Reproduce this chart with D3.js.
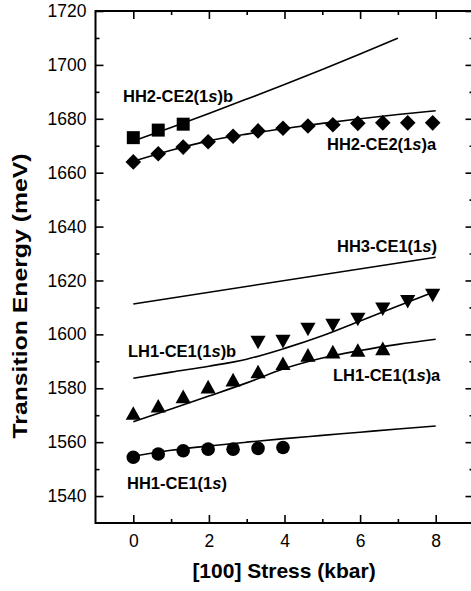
<!DOCTYPE html>
<html>
<head>
<meta charset="utf-8">
<script src="https://cdn.jsdelivr.net/npm/d3@7/dist/d3.min.js"></script>
<style>
body { margin: 0; background: #fff; }
svg { display: block; }
</style>
</head>
<body>
<svg id="chart"></svg>
<script>
// values (stress in kbar, energy in meV)
var stressKbar = [0, 0.66, 1.32, 1.98, 2.64, 3.3, 3.96, 4.62, 5.28, 5.94, 6.6, 7.26, 7.92];
var fitKbar = [0, 1, 2, 3, 4, 5, 6, 7, 8];

var hh2bPoints = [1673.0, 1675.8, 1678.0];
var hh2aPoints = [1664.0, 1667.0, 1669.5, 1671.5, 1673.5, 1675.5, 1676.5, 1677.3, 1677.8, 1678.3, 1678.5, 1678.5, 1678.5];
var lh1bPoints = [null, null, null, null, null, 1597.0, 1597.3, 1601.8, 1603.3, 1605.5, 1609.3, 1612.1, 1614.4];
var lh1aPoints = [1570.8, 1573.5, 1577.0, 1580.6, 1583.2, 1586.2, 1589.3, 1592.4, 1593.6, 1594.2, 1594.8];
var hh1Points = [1554.4, 1555.6, 1556.8, 1557.4, 1557.4, 1557.7, 1558.0];

var hh2bFit = [1671.8, 1676.8, 1682.0, 1687.3, 1692.7, 1698.3, 1704.0, 1709.9];
var hh2aFit = [1664.2, 1668.3, 1671.8, 1674.3, 1676.4, 1678.3, 1680.0, 1681.6, 1683.0];
var hh3Fit = [1611.3, null, null, null, null, null, null, null, 1628.6];
var lh1bFit = [1583.7, 1586.0, 1588.2, 1590.8, 1594.8, 1599.5, 1605.0, 1610.5, 1616.0];
var lh1aFit = [1567.6, 1572.3, 1577.1, 1582.0, 1587.3, 1591.2, 1594.0, 1596.3, 1598.2];
var hh1Fit = [1554.8, 1557.0, 1558.6, 1560.0, 1561.3, 1562.5, 1563.7, 1564.9, 1566.0];

var xMajorTicks = [0, 2, 4, 6, 8];
var xMinorTicks = [1, 3, 5, 7];
var yMajorTicks = [1540, 1560, 1580, 1600, 1620, 1640, 1660, 1680, 1700, 1720];
var yMinorTicks = [1550, 1570, 1590, 1610, 1630, 1650, 1670, 1690, 1710];

var curveNames = ["HH2-CE2(1s)b", "HH2-CE2(1s)a", "HH3-CE1(1s)", "LH1-CE1(1s)b", "LH1-CE1(1s)a", "HH1-CE1(1s)"];
var xTitle = "[100] Stress (kbar)";
var yTitle = "Transition Energy (meV)";

var params = {
    width: 471,
    height: 591,
    left: 95.5,
    right: 473.5,
    top: 11,
    bottom: 523,
    font: "'Liberation Sans', Arial, Helvetica, sans-serif",
    axisWidth: 2,
    lineWidth: 1.6,
    majorTick: 8,
    minorTick: 4,
    tickFontSize: 17.5,
    labelFontSize: 16.5,
    // pixel anchors of the curve names (left x, baseline y)
    labelPos: [[123, 102], [327, 150], [337, 252], [128, 357], [333, 381], [127, 489]]
};

function symbolPath(kind, cx, cy) {
    if (kind === "square") {
        var h = 6.5;
        return "M" + (cx - h) + "," + (cy - h) + "h" + (2 * h) + "v" + (2 * h) + "h" + (-2 * h) + "z";
    }
    if (kind === "diamond") {
        var r = 7.8;
        return "M" + cx + "," + (cy - r) + "L" + (cx + r) + "," + cy + "L" + cx + "," + (cy + r) + "L" + (cx - r) + "," + cy + "z";
    }
    if (kind === "up") {
        return "M" + cx + "," + (cy - 6.8) + "L" + (cx + 7.6) + "," + (cy + 6.8) + "L" + (cx - 7.6) + "," + (cy + 6.8) + "z";
    }
    if (kind === "down") {
        return "M" + cx + "," + (cy + 6.8) + "L" + (cx + 7.6) + "," + (cy - 6.8) + "L" + (cx - 7.6) + "," + (cy - 6.8) + "z";
    }
    var c = 6.8;
    return "M" + (cx - c) + "," + cy + "a" + c + "," + c + " 0 1,0 " + (2 * c) + ",0a" + c + "," + c + " 0 1,0 " + (-2 * c) + ",0z";
}

function styleAxis(a) {
    a.select(".domain").remove();
    a.selectAll("line").attr("stroke", "#000").attr("stroke-width", 1.6);
    a.selectAll("text").attr("font-size", params.tickFontSize).attr("fill", "#000");
}

var chart = {
    svg: null,
    x: null,
    y: null,
    setup: function() {
        this.svg = d3.select("#chart")
            .attr("width", params.width)
            .attr("height", params.height)
            .attr("font-family", params.font);
        this.x = d3.scaleLinear().domain([-1, 9]).range([params.left, params.right]);
        this.y = d3.scaleLinear().domain([1530, 1720]).range([params.bottom, params.top]);
    },
    drawAxes: function() {
        var g = this.svg.append("g").attr("class", "axes");
        var sides = [
            { gen: d3.axisBottom(this.x), pos: "translate(0," + params.bottom + ")", labels: true, pad: 12, major: xMajorTicks, minor: xMinorTicks },
            { gen: d3.axisTop(this.x), pos: "translate(0," + params.top + ")", labels: false, pad: 0, major: xMajorTicks, minor: xMinorTicks },
            { gen: d3.axisLeft(this.y), pos: "translate(" + params.left + ",0)", labels: true, pad: 9, major: yMajorTicks, minor: yMinorTicks },
            { gen: d3.axisRight(this.y), pos: "translate(" + params.right + ",0)", labels: false, pad: 0, major: yMajorTicks, minor: yMinorTicks }
        ];
        sides.forEach(function(s) {
            var major = g.append("g").attr("transform", s.pos)
                .call(s.gen.tickValues(s.major).tickSizeInner(-params.majorTick).tickSizeOuter(0)
                    .tickPadding(s.pad).tickFormat(s.labels ? d3.format("d") : ""));
            var minor = g.append("g").attr("transform", s.pos)
                .call(s.gen.tickValues(s.minor).tickSizeInner(-params.minorTick).tickFormat(""));
            styleAxis(major);
            styleAxis(minor);
        });
        g.append("rect")
            .attr("x", params.left)
            .attr("y", params.top)
            .attr("width", params.right - params.left)
            .attr("height", params.bottom - params.top)
            .attr("fill", "none")
            .attr("stroke", "#000")
            .attr("stroke-width", params.axisWidth);

        g.append("text")
            .attr("x", 284)
            .attr("y", 578)
            .attr("text-anchor", "middle")
            .attr("font-size", 21)
            .attr("font-weight", "bold")
            .text(xTitle);
        g.append("text")
            .attr("transform", "translate(27,296) rotate(-90)")
            .attr("text-anchor", "middle")
            .attr("font-size", 19.5)
            .attr("font-weight", "bold")
            .attr("textLength", 285)
            .attr("lengthAdjust", "spacingAndGlyphs")
            .text(yTitle);
    },
    drawLines: function() {
        var g = this.svg.append("g").attr("class", "fits");
        var me = this;
        var line = d3.line()
            .x(function(d) { return me.x(d[0]); })
            .y(function(d) { return me.y(d[1]); })
            .curve(d3.curveMonotoneX);
        [hh2bFit, hh2aFit, hh3Fit, lh1bFit, lh1aFit, hh1Fit].forEach(function(fit) {
            var pts = fit.map(function(v, i) { return [fitKbar[i], v]; })
                .filter(function(d) { return d[1] != null; });
            g.append("path")
                .attr("d", line(pts))
                .attr("fill", "none")
                .attr("stroke", "#000")
                .attr("stroke-width", params.lineWidth);
        });
    },
    drawPoints: function() {
        var g = this.svg.append("g").attr("class", "points");
        var me = this;
        var sets = [
            { vals: hh2bPoints, kind: "square" },
            { vals: hh2aPoints, kind: "diamond" },
            { vals: lh1bPoints, kind: "down" },
            { vals: lh1aPoints, kind: "up" },
            { vals: hh1Points, kind: "circle" }
        ];
        sets.forEach(function(s) {
            var pts = s.vals.map(function(v, i) { return [stressKbar[i], v]; })
                .filter(function(d) { return d[1] != null; });
            g.selectAll("path." + s.kind).data(pts).enter()
                .append("path")
                .attr("class", s.kind)
                .attr("d", function(d) { return symbolPath(s.kind, me.x(d[0]), me.y(d[1])); })
                .attr("fill", "#000");
        });
    },
    drawLabels: function() {
        var g = this.svg.append("g").attr("class", "labels");
        curveNames.forEach(function(name, i) {
            var parts = name.split("1s");
            var t = g.append("text")
                .attr("x", params.labelPos[i][0])
                .attr("y", params.labelPos[i][1])
                .attr("font-size", params.labelFontSize)
                .attr("font-weight", "bold");
            t.append("tspan").text(parts[0] + "1");
            t.append("tspan").attr("font-style", "italic").text("s");
            t.append("tspan").text(parts[1]);
        });
    },
    run: function() {
        this.setup();
        this.drawLines();
        this.drawPoints();
        this.drawAxes();
        this.drawLabels();
    }
};

chart.run();
</script>
</body>
</html>
